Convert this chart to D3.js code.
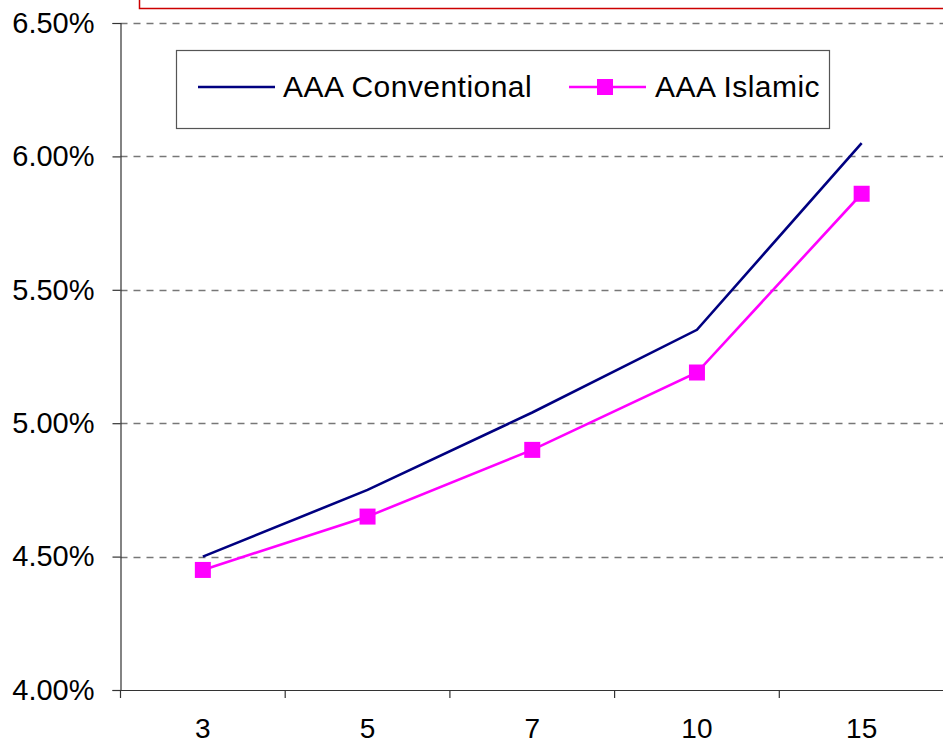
<!DOCTYPE html>
<html><head><meta charset="utf-8">
<script src="https://cdn.jsdelivr.net/npm/d3@7"></script>
<style>html,body{margin:0;padding:0;background:#fff;overflow:hidden}</style>
</head><body><svg id="c" width="943" height="748"></svg>
<script>
const categories = ["3", "5", "7", "10", "15"];
const conventional = [4.50, 4.75, 5.04, 5.35, 6.05];
const islamic = [4.45, 4.65, 4.90, 5.19, 5.86];
const yTicks = [4.0, 4.5, 5.0, 5.5, 6.0, 6.5];
const seriesNames = ["AAA Conventional", "AAA Islamic"];

const svg = d3.select("#c");
const plotLeft = 120.5, plotRight = 944, plotTop = 23, plotBottom = 690;
const font = "'Liberation Sans', Arial, sans-serif";

const x = d3.scaleBand().domain(categories).range([plotLeft, plotRight]);
const y = d3.scaleLinear().domain([4.0, 6.5]).range([plotBottom, plotTop]);

// red box at top (partially visible)
svg.append("rect").attr("x", 139.5).attr("y", -30).attr("width", 900).attr("height", 38.5)
  .attr("fill", "none").attr("stroke", "#cc0000").attr("stroke-width", 1.5);

// gridlines
svg.append("g").selectAll("line").data(yTicks.filter(d => d > 4.0)).join("line")
  .attr("x1", plotLeft).attr("x2", plotRight)
  .attr("y1", d => Math.round(y(d)) + 0.5).attr("y2", d => Math.round(y(d)) + 0.5)
  .attr("stroke", "#777").attr("stroke-width", 1.3).attr("stroke-dasharray", "7,6");

// y axis
const yAxis = d3.axisLeft(y).tickValues(yTicks).tickSize(8).tickPadding(18)
  .tickFormat(d => d.toFixed(2) + "%");
const gy = svg.append("g").attr("transform", `translate(${plotLeft},0)`).call(yAxis);
gy.select(".domain").attr("stroke", "#333").attr("stroke-width", 1.2);
gy.selectAll(".tick line").attr("stroke", "#333").attr("stroke-width", 1.2);
gy.selectAll(".tick text").attr("font-family", font).attr("font-size", 29).attr("fill", "#000");

// x axis
const xAxis = d3.axisBottom(x).tickSize(0).tickPadding(28);
const gx = svg.append("g").attr("transform", `translate(0,${plotBottom})`).call(xAxis);
gx.select(".domain").attr("stroke", "#333").attr("stroke-width", 1.2);
gx.selectAll(".tick text").attr("font-family", font).attr("font-size", 28).attr("fill", "#000");
// x tick marks at band boundaries
svg.append("g").selectAll("line").data(categories).join("line")
  .attr("x1", d => x(d)).attr("x2", d => x(d))
  .attr("y1", plotBottom).attr("y2", plotBottom + 8)
  .attr("stroke", "#333").attr("stroke-width", 1.2);

const cx = d => x(d) + x.bandwidth() / 2;
const line = d3.line().x(d => cx(d[0])).y(d => y(d[1]));

svg.append("path").datum(categories.map((c, i) => [c, conventional[i]]))
  .attr("d", line).attr("fill", "none").attr("stroke", "#000080").attr("stroke-width", 2.6);
svg.append("path").datum(categories.map((c, i) => [c, islamic[i]]))
  .attr("d", line).attr("fill", "none").attr("stroke", "#ff00ff").attr("stroke-width", 2.6);
svg.append("g").selectAll("rect").data(categories.map((c, i) => [c, islamic[i]])).join("rect")
  .attr("x", d => cx(d[0]) - 8).attr("y", d => y(d[1]) - 8)
  .attr("width", 16).attr("height", 16).attr("fill", "#ff00ff");

// legend
const lg = svg.append("g");
lg.append("rect").attr("x", 176.5).attr("y", 50.5).attr("width", 653).attr("height", 78)
  .attr("fill", "#fff").attr("stroke", "#555").attr("stroke-width", 1.2);
lg.append("line").attr("x1", 198).attr("x2", 275).attr("y1", 87).attr("y2", 87)
  .attr("stroke", "#000080").attr("stroke-width", 2.6);
lg.append("text").attr("x", 283).attr("y", 97).text(seriesNames[0])
  .attr("font-family", font).attr("font-size", 30).attr("letter-spacing", 0.45).attr("fill", "#000");
lg.append("line").attr("x1", 569).attr("x2", 646).attr("y1", 87).attr("y2", 87)
  .attr("stroke", "#ff00ff").attr("stroke-width", 2.6);
lg.append("rect").attr("x", 597).attr("y", 79).attr("width", 16).attr("height", 16).attr("fill", "#ff00ff");
lg.append("text").attr("x", 655).attr("y", 97).text(seriesNames[1])
  .attr("font-family", font).attr("font-size", 30).attr("letter-spacing", 0.45).attr("fill", "#000");
</script></body></html>
